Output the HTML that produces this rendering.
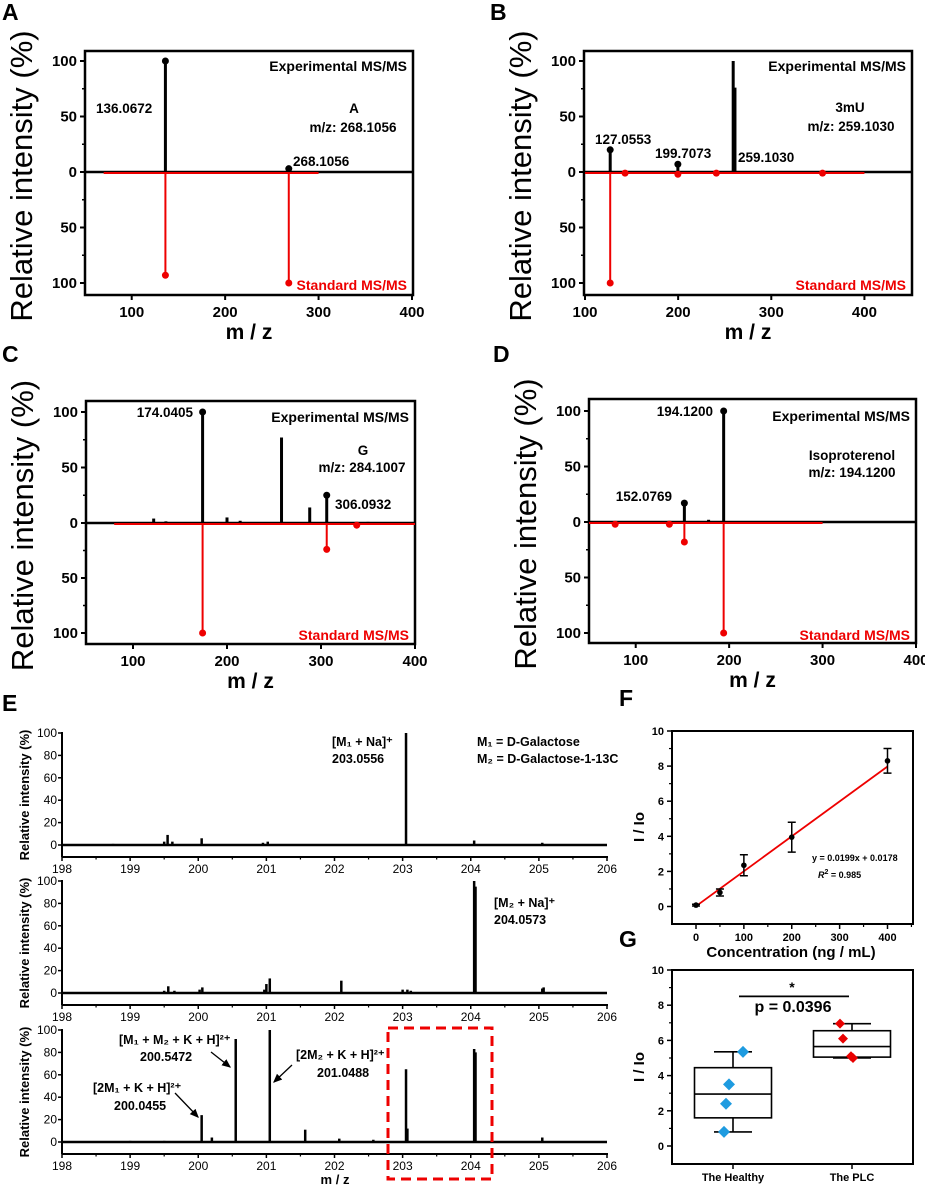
<!DOCTYPE html>
<html><head><meta charset="utf-8"><style>
html,body{margin:0;padding:0;background:#fff;}
svg{display:block;font-family:"Liberation Sans",sans-serif;}
</style></head><body>
<svg id="fig" width="925" height="1186" viewBox="0 0 925 1186" xmlns="http://www.w3.org/2000/svg"></svg>
<script>
// ---------- data ----------
const aExpMz=[136.07,268.11,175,200,230,380];
const aExpInt=[100,3,0.8,0.6,0.5,0.8];
const aStdMz=[136.07,268.11];
const aStdInt=[93,100];
const bExpMz=[127.06,199.71,259.10,261,143,240];
const bExpInt=[20,7,100,76,1,1];
const bStdMz=[127.06,143,199.71,241,355];
const bStdInt=[100,1,2,1,1];
const cExpMz=[122,135,174.04,200,214,258,288,306.09,338,350];
const cExpInt=[4,1.5,100,5,2,77,14,25,1,1];
const cStdMz=[174.04,306.09,338];
const cStdInt=[100,24,2];
const dExpMz=[136,152.08,178,194.12];
const dExpInt=[1,17,2,100];
const dStdMz=[78,136,152.08,194.12];
const dStdInt=[2,2,18,100];
const e1Mz=[198.75,199.5,199.55,199.62,200.05,200.95,201.02,203.05,204.05,205.05];
const e1Int=[1,3,9,3,6,2,3,100,4,2];
const e2Mz=[199.5,199.56,199.65,200.02,200.06,200.97,201.0,201.05,202.1,203.0,203.07,203.12,204.05,204.07,205.05,205.07];
const e2Int=[2,6,2,3,5,3,8,13,11,3,3,2,100,95,4,5];
const e3Mz=[199.0,199.5,200.05,200.2,200.55,201.05,201.57,202.07,202.57,203.05,203.07,204.05,204.07,205.05];
const e3Int=[1,1,24,4,92,100,11,3,2,65,12,83,80,4];
const fConc=[0,50,100,200,400];
const fRatio=[0.08,0.8,2.35,3.95,8.3];
const fErr=[0.05,0.2,0.6,0.85,0.7];
const fSlope=0.0199, fIntercept=0.0178;
const gHealthy=[5.35,3.5,2.4,0.8];
const gPLC=[6.95,6.1,5.1,5.0];
const gHealthyBox=[0.8,1.6,2.95,4.45,5.35];
const gPLCBox=[5.0,5.05,5.65,6.55,6.95];
const msXTicks=[100,200,300,400];
const msYTicks=[100,50,0,50,100];
const eXTicks=[198,199,200,201,202,203,204,205,206];
const eYTicks=[0,20,40,60,80,100];
const fXTicks=[0,100,200,300,400];
const fYTicks=[0,2,4,6,8,10];

const NS="http://www.w3.org/2000/svg";
const svg=document.getElementById('fig');
function mk(tag,attrs,parent){const e=document.createElementNS(NS,tag);for(const k in attrs)e.setAttribute(k,attrs[k]);(parent||svg).appendChild(e);return e;}
function txt(s,x,y,attrs){const e=mk('text',Object.assign({x:x,y:y},attrs||{}));e.textContent=s;return e;}

// ---------- MS/MS mirror panels ----------
function msPanel(p){
  const g=mk('g',{});
  
  
  const sx=v=>p.x0+(v-p.xmin)/(p.xmax-p.xmin)*(p.x1-p.x0);
  const syU=v=>p.y0-v*(p.y0-p.y100)/100;
  const syD=v=>p.y0+v*(p.yd-p.y0)/100;
  let e=mk('rect',{x:p.bx0,y:p.by0,width:p.bx1-p.bx0,height:p.by1-p.by0,fill:'none',stroke:'#000','stroke-width':2.5},g);
  
  
  // y ticks
  const yv=[syU(100),syU(50),p.y0,syD(50),syD(100)];
  msYTicks.forEach((t,i)=>{
    mk('line',{x1:p.bx0-5,x2:p.bx0,y1:yv[i],y2:yv[i],stroke:'#000','stroke-width':2},g);
    const l=txt(String(t),p.bx0-8,yv[i]+5,{'text-anchor':'end','font-size':15,'font-weight':'bold'});
    
    
    g.appendChild(l);
  });
  [syU(75),syU(25),syD(25),syD(75)].forEach(y=>mk('line',{x1:p.bx0-3,x2:p.bx0,y1:y,y2:y,stroke:'#000','stroke-width':1.5},g));
  msXTicks.forEach(t=>{
    const x=sx(t);
    mk('line',{x1:x,x2:x,y1:p.by1,y2:p.by1+5,stroke:'#000','stroke-width':2},g);
    const l=txt(String(t),x,p.by1+22,{'text-anchor':'middle','font-size':15,'font-weight':'bold'});
    
    
    g.appendChild(l);
  });
  // baselines
  mk('line',{x1:p.bx0,x2:p.bx1,y1:p.y0,y2:p.y0,stroke:'#000','stroke-width':2.5},g);
  mk('line',{x1:sx(p.redFrom),x2:sx(p.redTo),y1:p.y0+1,y2:p.y0+1,stroke:'#e00','stroke-width':2},g);
  // experimental peaks
  p.expMz.forEach((m,i)=>{
    const x=sx(m),y=syU(p.expInt[i]);
    const s=mk('line',{x1:x,x2:x,y1:p.y0,y2:y,stroke:'#000','stroke-width':3},g);
    
    
    if(p.expDots.includes(i)){const c=mk('circle',{cx:x,cy:y,r:3.5,fill:'#000'},g);
      
      }
  });
  p.stdMz.forEach((m,i)=>{
    const x=sx(m),y=syD(p.stdInt[i]);
    const s=mk('line',{x1:x,x2:x,y1:p.y0,y2:y,stroke:'#e00','stroke-width':2},g);
    
    
    const c=mk('circle',{cx:x,cy:y,r:3.5,fill:'#e00'},g);
    
    
  });
  let t=txt('Experimental MS/MS',p.bx1-6,p.y100+10,{'text-anchor':'end','font-size':14,'font-weight':'bold'});
  g.appendChild(t);
  t=txt('Standard MS/MS',p.bx1-6,p.yd+7,{'text-anchor':'end','font-size':14,'font-weight':'bold',fill:'#e00'});
  g.appendChild(t);
  p.labels.forEach(L=>{const q=txt(L[0],L[1],L[2],{'text-anchor':L[3]||'start','font-size':13.5,'font-weight':'bold'});
    g.appendChild(q);});
  t=txt('Relative intensity (%)',0,0,{'text-anchor':'middle','font-size':31,transform:'translate('+(p.bx0-53)+','+((p.by0+p.by1)/2+3)+') rotate(-90)'});
  g.appendChild(t);
  t=txt('m / z',(p.bx0+p.bx1)/2,p.by1+44,{'text-anchor':'middle','font-size':21,'font-weight':'bold'});
  g.appendChild(t);
  t=txt(p.id,p.lx,p.ly,{'font-size':23,'font-weight':'bold'});
  g.appendChild(t);
}
msPanel({id:'A',bx0:85,bx1:413,by0:51,by1:295,x0:85,x1:412,xmin:50,xmax:400,y0:172,y100:61,yd:283,
 expMz:aExpMz,expInt:aExpInt,stdMz:aStdMz,stdInt:aStdInt,expDots:[0,1],redFrom:70,redTo:300,lx:2,ly:20,
 labels:[['136.0672',96,113],['268.1056',293,166],['A',354,113,'middle'],['m/z: 268.1056',353,132,'middle']]});
msPanel({id:'B',bx0:584,bx1:912,by0:51,by1:295,x0:585,x1:911,xmin:100,xmax:450,y0:172,y100:61,yd:283,
 expMz:bExpMz,expInt:bExpInt,stdMz:bStdMz,stdInt:bStdInt,expDots:[0,1],redFrom:100,redTo:400,lx:490,ly:20,
 labels:[['127.0553',595,144],['199.7073',655,158],['259.1030',738,162],['3mU',850,112,'middle'],['m/z: 259.1030',851,131,'middle']]});
msPanel({id:'C',bx0:86,bx1:415,by0:401,by1:644,x0:86,x1:415,xmin:50,xmax:400,y0:523,y100:412,yd:633,
 expMz:cExpMz,expInt:cExpInt,stdMz:cStdMz,stdInt:cStdInt,expDots:[2,7],redFrom:80,redTo:400,lx:2,ly:362,
 labels:[['174.0405',193,417,'end'],['306.0932',335,509],['G',363,455,'middle'],['m/z: 284.1007',362,472,'middle']]});
msPanel({id:'D',bx0:589,bx1:916,by0:399,by1:643,x0:589,x1:916,xmin:50,xmax:400,y0:522,y100:411,yd:633,
 expMz:dExpMz,expInt:dExpInt,stdMz:dStdMz,stdInt:dStdInt,expDots:[1,3],redFrom:50,redTo:300,lx:493,ly:362,
 labels:[['194.1200',713,416,'end'],['152.0769',672,501,'end'],['Isoproterenol',852,460,'middle'],['m/z: 194.1200',852,477,'middle']]});

// ---------- E panels ----------
function ePanel(id,mz,inten,y0){
  const g=mk('g',{});
  
  
  const x0=62,x1=607;
  const sx=v=>x0+(v-198)/8*(x1-x0);
  const sy=v=>y0-v*1.12;
  const ax=y0+12;
  mk('line',{x1:x0,x2:x0,y1:sy(100)-1,y2:ax,stroke:'#000','stroke-width':2},g);
  mk('line',{x1:x0,x2:x1+1,y1:ax,y2:ax,stroke:'#000','stroke-width':2},g);
  eYTicks.forEach(t=>{const y=sy(t);
    mk('line',{x1:x0-4,x2:x0,y1:y,y2:y,stroke:'#000','stroke-width':1.5},g);
    const l=txt(String(t),x0-5,y+4,{'text-anchor':'end','font-size':12});
    g.appendChild(l);});
  eXTicks.forEach(t=>{const x=sx(t);
    mk('line',{x1:x,x2:x,y1:ax,y2:ax+4,stroke:'#000','stroke-width':1.5},g);
    if(t<206) mk('line',{x1:sx(t+0.5),x2:sx(t+0.5),y1:ax,y2:ax+2.5,stroke:'#000','stroke-width':1.2},g);
    const l=txt(String(t),x,ax+16,{'text-anchor':'middle','font-size':12});
    g.appendChild(l);});
  mk('line',{x1:x0,x2:x1,y1:y0,y2:y0,stroke:'#000','stroke-width':2.5},g);
  mz.forEach((m,i)=>{const x=sx(m);
    const s=mk('line',{x1:x,x2:x,y1:y0,y2:sy(inten[i]),stroke:'#000','stroke-width':2.5},g);
    });
  const t=txt('Relative intensity (%)',0,0,{'text-anchor':'middle','font-size':13,'font-weight':'bold',transform:'translate(29,'+(sy(100)+ax)/2+') rotate(-90)'});
  g.appendChild(t);
  return g;
}
ePanel('top',e1Mz,e1Int,845);
ePanel('middle',e2Mz,e2Int,993);
ePanel('bottom',e3Mz,e3Int,1142);
let q=txt('E',2,711,{'font-size':23,'font-weight':'bold'});

q=txt('m / z',335,1184,{'text-anchor':'middle','font-size':13,'font-weight':'bold'});

const eAnn=[['[M₁ + Na]⁺',332,746],['203.0556',332,763],['M₁ = D-Galactose',477,746],['M₂ = D-Galactose-1-13C',477,763],
 ['[M₂ + Na]⁺',494,907],['204.0573',494,924],['[M₁ + M₂ + K + H]²⁺',119,1044],['200.5472',140,1061],
 ['[2M₂ + K + H]²⁺',296,1059],['201.0488',317,1077],['[2M₁ + K + H]²⁺',93,1092],['200.0455',114,1110]];
eAnn.forEach(a=>{const e=txt(a[0],a[1],a[2],{'font-size':12.5,'font-weight':'bold'});
  });
mk('defs',{}).innerHTML='<marker id="ah" markerWidth="8" markerHeight="8" refX="6" refY="3" orient="auto"><path d="M0,0 L7,3 L0,6 z" fill="#000"/></marker>';
[[211,1052,230,1067],[292,1065,274,1082],[175,1093,198,1117]].forEach(a=>{
  const e=mk('line',{x1:a[0],y1:a[1],x2:a[2],y2:a[3],stroke:'#000','stroke-width':1.3,'marker-end':'url(#ah)'});
  });
q=mk('rect',{x:388,y:1028,width:104,height:151,fill:'none',stroke:'#e00','stroke-width':3,'stroke-dasharray':'10,6'});


// ---------- F ----------
(function(){
  const fx=v=>696+v*(887.5-696)/400;
  const fy=v=>906.5-v*17.55;
  const g=mk('g',{});
  
  
  mk('rect',{x:672,y:731,width:241,height:193,fill:'none',stroke:'#000','stroke-width':2},g);
  fYTicks.forEach(t=>{const y=fy(t);mk('line',{x1:667,x2:672,y1:y,y2:y,stroke:'#000','stroke-width':1.5},g);
    if(t<10) mk('line',{x1:669,x2:672,y1:fy(t+1),y2:fy(t+1),stroke:'#000','stroke-width':1.2},g);
    const l=txt(String(t),664,y+4,{'text-anchor':'end','font-size':11,'font-weight':'bold'});
    g.appendChild(l);});
  fXTicks.forEach(t=>{const x=fx(t);mk('line',{x1:x,x2:x,y1:924,y2:929,stroke:'#000','stroke-width':1.5},g);
    mk('line',{x1:fx(t+50),x2:fx(t+50),y1:924,y2:927,stroke:'#000','stroke-width':1.2},g);
    const l=txt(String(t),x,941,{'text-anchor':'middle','font-size':11,'font-weight':'bold'});
    g.appendChild(l);});
  let e=mk('line',{x1:fx(0),x2:fx(400),y1:fy(fIntercept),y2:fy(fSlope*400+fIntercept),stroke:'#e00','stroke-width':1.8},g);
  
  fConc.forEach((c,i)=>{const x=fx(c),yt=fy(fRatio[i]+fErr[i]),yb=fy(fRatio[i]-fErr[i]);
    const b=mk('path',{d:`M${x},${yt}V${yb}M${x-4},${yt}H${x+4}M${x-4},${yb}H${x+4}`,stroke:'#000','stroke-width':1.5,fill:'none'},g);
    
    const p=mk('circle',{cx:x,cy:fy(fRatio[i]),r:2.8,fill:'#000'},g);
    });
  e=txt('y = 0.0199x + 0.0178',812,861,{'font-size':9,'font-weight':'bold'});g.appendChild(e);
  
  e=txt('',818,878,{'font-size':9,'font-weight':'bold'});g.appendChild(e);
  e.innerHTML='<tspan font-style="italic">R</tspan><tspan dy="-4" font-size="7">2</tspan><tspan dy="4"> = 0.985</tspan>';
  
  e=txt('I / Io',0,0,{'text-anchor':'middle','font-size':15,'font-weight':'bold',transform:'translate(644,827) rotate(-90)'});g.appendChild(e);
  
  e=txt('Concentration (ng / mL)',791,957,{'text-anchor':'middle','font-size':15,'font-weight':'bold'});g.appendChild(e);
  
  e=txt('F',619,706,{'font-size':23,'font-weight':'bold'});g.appendChild(e);
  
})();

// ---------- G ----------
(function(){
  const gy=v=>1146-v*17.6;
  const g=mk('g',{});
  
  
  mk('rect',{x:672,y:970,width:241,height:194,fill:'none',stroke:'#000','stroke-width':2},g);
  fYTicks.forEach(t=>{const y=gy(t);mk('line',{x1:667,x2:672,y1:y,y2:y,stroke:'#000','stroke-width':1.5},g);
    if(t<10) mk('line',{x1:669,x2:672,y1:gy(t+1),y2:gy(t+1),stroke:'#000','stroke-width':1.2},g);
    const l=txt(String(t),664,y+4,{'text-anchor':'end','font-size':11,'font-weight':'bold'});
    g.appendChild(l);});
  function box(cx,s,name){
    const w=77,x=cx-w/2;
    const r=mk('rect',{x:x,y:gy(s[3]),width:w,height:gy(s[1])-gy(s[3]),fill:'none',stroke:'#000','stroke-width':1.6},g);
    
    mk('line',{x1:x,x2:x+w,y1:gy(s[2]),y2:gy(s[2]),stroke:'#000','stroke-width':1.6},g);
    mk('path',{d:`M${cx},${gy(s[3])}V${gy(s[4])}M${cx-19},${gy(s[4])}H${cx+19}M${cx},${gy(s[1])}V${gy(s[0])}M${cx-19},${gy(s[0])}H${cx+19}`,stroke:'#000','stroke-width':1.6,fill:'none'},g);
    mk('line',{x1:cx,x2:cx,y1:1164,y2:1169,stroke:'#000','stroke-width':1.5},g);
  }
  box(733,gHealthyBox,'healthy');
  box(852,gPLCBox,'plc');
  const hx=[10,-4,-7,-9], px=[-12,-9,-1,1];
  gHealthy.forEach((v,i)=>{const x=733+hx[i],y=gy(v);
    const d=mk('path',{d:`M${x},${y-6}L${x+6},${y}L${x},${y+6}L${x-6},${y}Z`,fill:'#1e9be0'},g);
    });
  gPLC.forEach((v,i)=>{const x=852+px[i],y=gy(v);
    const d=mk('path',{d:`M${x},${y-5}L${x+5},${y}L${x},${y+5}L${x-5},${y}Z`,fill:'#e80000'},g);
    });
  mk('line',{x1:739,x2:849,y1:gy(8.5),y2:gy(8.5),stroke:'#000','stroke-width':1.8},g);
  let e=txt('*',792,gy(8.75),{'text-anchor':'middle','font-size':14,'font-weight':'bold'});g.appendChild(e);
  
  e=txt('p = 0.0396',793,gy(7.6),{'text-anchor':'middle','font-size':16,'font-weight':'bold'});g.appendChild(e);
  
  e=txt('The Healthy',733,1181,{'text-anchor':'middle','font-size':11,'font-weight':'bold'});g.appendChild(e);
  
  e=txt('The PLC',852,1181,{'text-anchor':'middle','font-size':11,'font-weight':'bold'});g.appendChild(e);
  
  e=txt('I / Io',0,0,{'text-anchor':'middle','font-size':15,'font-weight':'bold',transform:'translate(644,1067) rotate(-90)'});g.appendChild(e);
  
  e=txt('G',619,947,{'font-size':23,'font-weight':'bold'});g.appendChild(e);
  
})();
</script>
</body></html>
